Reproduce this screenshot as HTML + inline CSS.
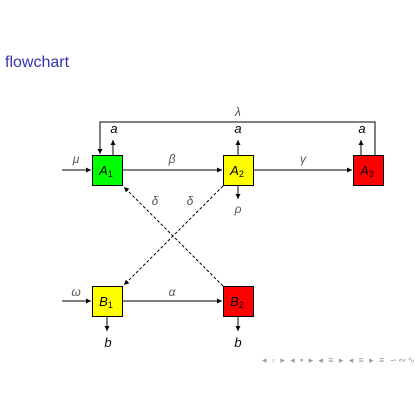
<!DOCTYPE html>
<html><head><style>
body{margin:0;width:420px;height:420px;background:#fff;overflow:hidden}
svg{display:block}
text{font-family:"Liberation Sans",sans-serif}
.m{font-family:"Liberation Serif",serif;font-style:italic;font-size:12px;fill:#555}
</style></head><body>
<svg width="420" height="420" viewBox="0 0 420 420">
<defs><marker id="ar" markerWidth="6" markerHeight="6" refX="5" refY="3" orient="auto" markerUnits="userSpaceOnUse"><path d="M0,0.5 L5,3 L0,5.5 z" fill="#000"/></marker></defs>
<text x="5" y="67" font-size="16" fill="#3333b3">flowchart</text>
<g stroke="#000" stroke-width="1" fill="none">
<line x1="62" y1="170" x2="91" y2="170" marker-end="url(#ar)"/>
<line x1="123" y1="170" x2="222" y2="170" marker-end="url(#ar)"/>
<line x1="253" y1="170" x2="352" y2="170" marker-end="url(#ar)"/>
<polyline points="375,155 375,122 100,122 100,154" marker-end="url(#ar)"/>
<line x1="113" y1="155" x2="113" y2="140" marker-end="url(#ar)"/>
<line x1="238" y1="155" x2="238" y2="140" marker-end="url(#ar)"/>
<line x1="361" y1="155" x2="361" y2="140" marker-end="url(#ar)"/>
<line x1="238" y1="186" x2="238" y2="199" marker-end="url(#ar)"/>
<line x1="62" y1="301" x2="91" y2="301" marker-end="url(#ar)"/>
<line x1="123" y1="301" x2="222" y2="301" marker-end="url(#ar)"/>
<line x1="107" y1="316" x2="107" y2="331" marker-end="url(#ar)"/>
<line x1="238" y1="316" x2="238" y2="331" marker-end="url(#ar)"/>
<line x1="223" y1="186" x2="124" y2="285" stroke-dasharray="3,2" marker-end="url(#ar)"/>
<line x1="223" y1="286" x2="124" y2="187" stroke-dasharray="3,2" marker-end="url(#ar)"/>
</g>
<g stroke="#000" stroke-width="1">
<rect x="92.5" y="155.5" width="30" height="30" fill="#00ff00"/>
<rect x="223.5" y="155.5" width="30" height="30" fill="#ffff00"/>
<rect x="353.5" y="155.5" width="30" height="30" fill="#ff0000"/>
<rect x="92.5" y="286.5" width="30" height="30" fill="#ffff00"/>
<rect x="223.5" y="286.5" width="30" height="30" fill="#ff0000"/>
</g>
<g font-size="13" font-style="italic" text-anchor="middle">
<text x="106" y="175">A<tspan font-size="9" font-style="normal" dy="2">1</tspan></text>
<text x="237" y="175">A<tspan font-size="9" font-style="normal" dy="2">2</tspan></text>
<text x="367" y="175">A<tspan font-size="9" font-style="normal" dy="2">3</tspan></text>
<text x="106" y="306">B<tspan font-size="9" font-style="normal" dy="2">1</tspan></text>
<text x="237" y="306">B<tspan font-size="9" font-style="normal" dy="2">2</tspan></text>
<text x="114" y="133">a</text><text x="238" y="133">a</text><text x="362" y="133">a</text>
<text x="108" y="347">b</text><text x="238" y="347">b</text>
</g>
<g class="m" text-anchor="middle">
<text x="238" y="116">λ</text>
<text x="76" y="163">μ</text>
<text x="172" y="163">β</text>
<text x="303" y="163">γ</text>
<text x="238" y="213">ρ</text>
<text x="155" y="205">δ</text>
<text x="190" y="205">δ</text>
<text x="76" y="296">ω</text>
<text x="172" y="296">α</text>
</g>
<text x="262" y="363" font-size="9" fill="#99a" textLength="153" lengthAdjust="spacing">◂ ▫ ▸ ◂ ▪ ▸ ◂ ≡ ▸ ◂ ≡ ▸ ≡ ∽∾∿</text>
</svg>
</body></html>
